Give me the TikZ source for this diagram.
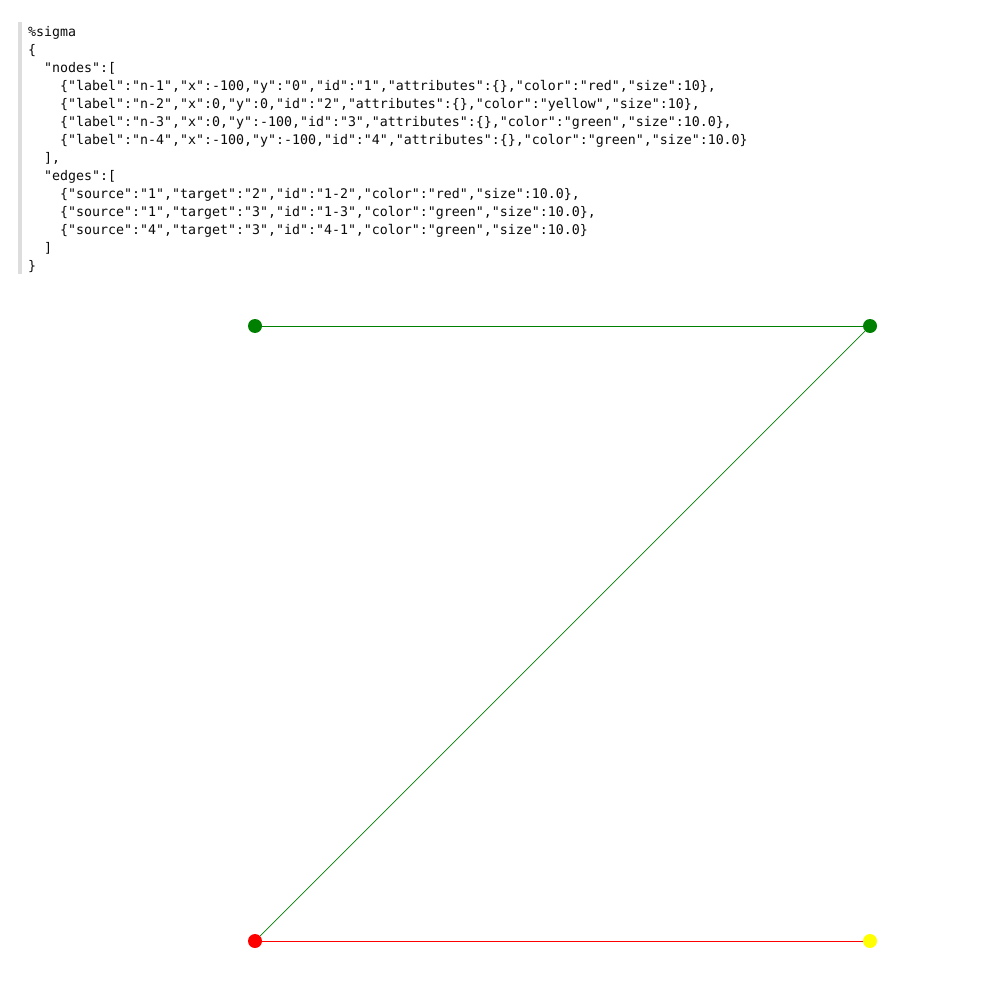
\documentclass[tikz,border=0pt]{standalone}
\usepackage{fontspec}
\newfontfamily\codefont{DejaVu Sans Mono}
\definecolor{sgreen}{RGB}{0,128,0}
\definecolor{sred}{RGB}{255,0,0}
\definecolor{syellow}{RGB}{255,255,0}
\definecolor{bargray}{RGB}{221,221,221}
\definecolor{codeink}{RGB}{10,10,10}
\tikzset{
  code/.style={anchor=base west, inner sep=0pt, text=codeink,
    font=\codefont\fontsize{13.28pt}{18pt}\selectfont},
  gnode/.style={circle, inner sep=0pt, minimum size=14pt, draw=none},
  gedge/.style={line width=0.7pt}
}
\begin{document}
\begin{tikzpicture}[x=1pt,y=-1pt]
\useasboundingbox (0,0) rectangle (1007,1003);
\fill[white] (0,0) rectangle (1007,1003);
% code block bar
\fill[bargray] (18,22) rectangle (22,274);
% code lines
\node[code] (l1) at (28,37) {\%sigma};
\node[code] (l2) at (28,55) {\{};
\node[code] (l3) at (44,73) {"nodes":[};
\node[code] (l4) at (60,91) {\{"label":"n-1","x":-100,"y":"0","id":"1","attributes":\{\},"color":"red","size":10\},};
\node[code] (l5) at (60,109) {\{"label":"n-2","x":0,"y":0,"id":"2","attributes":\{\},"color":"yellow","size":10\},};
\node[code] (l6) at (60,127) {\{"label":"n-3","x":0,"y":-100,"id":"3","attributes":\{\},"color":"green","size":10.0\},};
\node[code] (l7) at (60,145) {\{"label":"n-4","x":-100,"y":-100,"id":"4","attributes":\{\},"color":"green","size":10.0\}};
\node[code] (l8) at (44,163) {],};
\node[code] (l9) at (44,181) {"edges":[};
\node[code] (l10) at (60,199) {\{"source":"1","target":"2","id":"1-2","color":"red","size":10.0\},};
\node[code] (l11) at (60,217) {\{"source":"1","target":"3","id":"1-3","color":"green","size":10.0\},};
\node[code] (l12) at (60,235) {\{"source":"4","target":"3","id":"4-1","color":"green","size":10.0\}};
\node[code] (l13) at (44,253) {]};
\node[code] (l14) at (28,271) {\}};
% graph nodes
\node[gnode, fill=sred] (n1) at (255,941) {};
\node[gnode, fill=syellow] (n2) at (870,941) {};
\node[gnode, fill=sgreen] (n3) at (870,326) {};
\node[gnode, fill=sgreen] (n4) at (255,326) {};
% edges
\draw[gedge, sred] (n1) -- (n2);
\draw[gedge, sgreen] (n1) -- (n3);
\draw[gedge, sgreen] (n4) -- (n3);
\end{tikzpicture}
\end{document}
